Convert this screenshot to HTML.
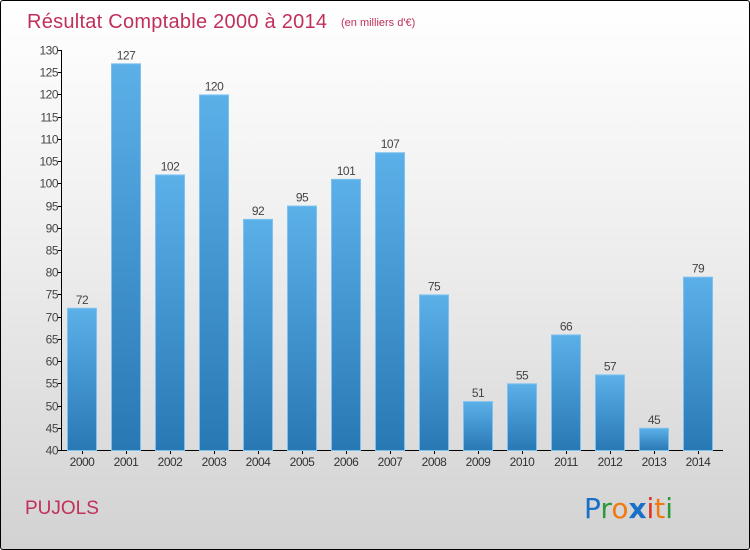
<!DOCTYPE html>
<html><head><meta charset="utf-8"><style>
body{margin:0;}
#wrap{position:relative;width:748px;height:548px;border:1px solid #000;border-radius:3px;background:linear-gradient(#ffffff 0%,#f0f0f0 40%,#d2d2d2 100%);font-family:"Liberation Sans",sans-serif;overflow:hidden;}
</style></head><body>
<div id="wrap">
<svg width="748" height="548">
<defs><linearGradient id="bg" x1="0" y1="0" x2="0" y2="1"><stop offset="0" stop-color="#5cb0e8"/><stop offset="1" stop-color="#2878b4"/></linearGradient></defs>
<text x="26" y="27" font-size="20" fill="#c0305a" textLength="300">Résultat Comptable 2000 à 2014</text>
<text x="340" y="25" font-size="11" fill="#c0305a">(en milliers d'€)</text>
<g id="axes"></g><g id="bars"></g>
<text x="24" y="513" font-size="19" fill="#c0305a">PUJOLS</text>
<g font-size="28" font-family="'DejaVu Sans',sans-serif">
<text x="583" y="517"><tspan fill="#1a6fc8">P</tspan><tspan fill="#2a9a3a">r</tspan><tspan fill="#f07a10">o</tspan><tspan fill="#1a6fc8" font-weight="bold">x</tspan><tspan fill="#e03020">i</tspan><tspan fill="#f07a10">t</tspan><tspan fill="#2a9a3a">i</tspan></text></g>
</svg></div>
<script>
const years=["2000","2001","2002","2003","2004","2005","2006","2007","2008","2009","2010","2011","2012","2013","2014"];
const values=[72,127,102,120,92,95,101,107,75,51,55,66,57,45,79];
const yTicks=[40,45,50,55,60,65,70,75,80,85,90,95,100,105,110,115,120,125,130];
const NS="http://www.w3.org/2000/svg";
const y0=449,yMin=40,yMax=130,yTop=49;
const yS=v=>y0-(v-yMin)*(y0-yTop)/(yMax-yMin);
const xS=i=>81+i*44;
function mk(t,a,p){const e=document.createElementNS(NS,t);for(const k in a)e.setAttribute(k,a[k]);p.appendChild(e);return e;}
const ax=document.getElementById('axes'),bs=document.getElementById('bars');
const yl=mk('line',{x1:60.5,x2:60.5,y1:yTop,y2:y0+0.5,stroke:'#000'},ax);


const xl=mk('line',{x1:60,x2:722,y1:y0+0.5,y2:y0+0.5,stroke:'#000'},ax);


yTicks.forEach(v=>{const y=Math.round(yS(v))+0.5;
mk('line',{x1:57,x2:61,y1:y,y2:y,stroke:'#000'},ax);
const t=mk('text',{x:57,y:y+4,'font-size':12,'text-anchor':'end',fill:'#444','letter-spacing':'-0.5'},ax);t.textContent=v;

});
years.forEach((yr,i)=>{const x=xS(i),v=values[i],y=yS(v);
const r=mk('rect',{x:x-15+0.5,y:y+0.5,width:29,height:y0-y,fill:'url(#bg)',stroke:'#7cc2f0','stroke-width':1},bs);


mk('line',{x1:x+0.5,x2:x+0.5,y1:y0,y2:y0+4,stroke:'#000'},ax);
const t=mk('text',{x:x,y:465,'font-size':12,'text-anchor':'middle',fill:'#333','letter-spacing':'-0.5'},ax);t.textContent=yr;


const l=mk('text',{x:x,y:y-4,'font-size':12,'text-anchor':'middle',fill:'#444','letter-spacing':'-0.5'},bs);l.textContent=v;

});
</script></body></html>
